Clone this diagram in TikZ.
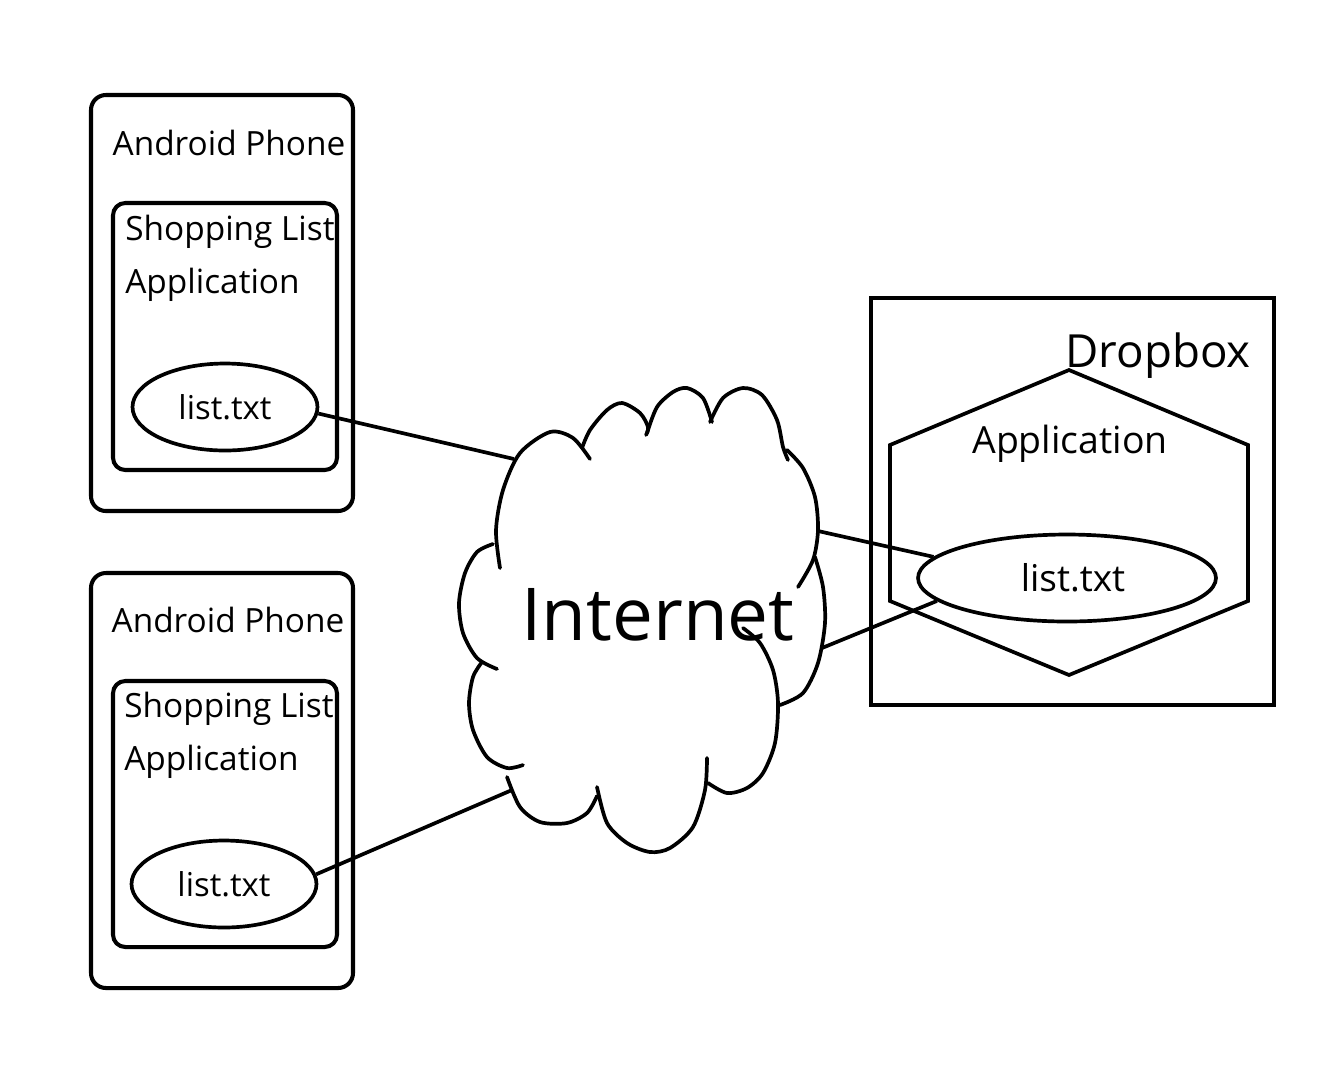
\documentclass[tikz,border=0pt]{standalone}
\usepackage{fontspec}
\setmainfont{Open Sans}
\usetikzlibrary{shapes.geometric}
\begin{document}
\begin{tikzpicture}[x=0.02cm,y=-0.02cm]
      % Define styles for boxes, files and lines
      \tikzset{
        phone/.style={line width=2.3pt,rounded corners=8.5pt},
        app/.style={line width=2.3pt,rounded corners=7pt},
        boxtext/.style={inner sep=0pt,font=\fontsize{19}{23}\selectfont},
        file/.style={draw,ellipse,line width=2.1pt,inner sep=0pt,
          minimum width=3.7cm,minimum height=1.74cm,
          font=\fontsize{18.7}{22}\selectfont},
        wire/.style={line width=2.1pt},
        cloudarc/.style={line width=2.1pt,line cap=round}
      }
      \useasboundingbox (0,0) rectangle (1342,1080);

      % First phone
      \draw[phone] (91,95) rectangle (353,511);
      \node[boxtext,anchor=base] (phone1) at (229,155) {Android Phone};
      \draw[app] (113,203) rectangle (337,470);
      \node[boxtext,anchor=base west] (shop1) at (125,240) {Shopping List};
      \node[boxtext,anchor=base west] (app1) at (125,293) {Application};
      \node[file] (file1) at (225,407) {list.txt};

      % Second phone
      \draw[phone] (91,573) rectangle (353,988);
      \node[boxtext,anchor=base] (phone2) at (228,632) {Android Phone};
      \draw[app] (113,681) rectangle (337,947);
      \node[boxtext,anchor=base west] (shop2) at (124,717) {Shopping List};
      \node[boxtext,anchor=base west] (app2) at (124,770) {Application};
      \node[file] (file2) at (224,884) {list.txt};

      % Cloud, drawn puff by puff
      \draw[cloudarc] plot[smooth] coordinates {(500,568) (496,530) (503,490) (520,453) (550,432) (573,438) (590,459)};
      \draw[cloudarc] plot[smooth] coordinates {(582,448) (590,430) (607,410) (622,403) (640,413) (648,427) (646,435)};
      \draw[cloudarc] plot[smooth] coordinates {(647,433) (657,407) (673,392) (687,388) (703,398) (712,422)};
      \draw[cloudarc] plot[smooth] coordinates {(710,422) (723,398) (743,388) (762,395) (777,420) (783,447) (788,460)};
      \draw[cloudarc] plot[smooth] coordinates {(787,450) (803,468) (815,497) (818,530) (813,560) (798,587)};
      \draw[cloudarc] plot[smooth] coordinates {(815,557) (823,587) (825,623) (818,663) (803,693) (780,705)};
      \draw[cloudarc] plot[smooth] coordinates {(743,628) (760,643) (773,670) (778,703) (775,743) (763,773) (747,788) (727,793) (708,783)};
      \draw[cloudarc] plot[smooth] coordinates {(707,758) (705,790) (693,827) (670,848) (650,852) (627,843) (607,823) (597,787)};
      \draw[cloudarc] plot[smooth] coordinates {(597,796) (587,813) (567,823) (540,822) (520,807) (507,777)};
      \draw[cloudarc] plot[smooth] coordinates {(523,765) (507,768) (487,757) (473,730) (469,703) (473,677) (482,662)};
      \draw[cloudarc] plot[smooth] coordinates {(497,669) (477,658) (463,633) (459,603) (465,573) (477,552) (493,544)};
      \node[inner sep=0pt,font=\fontsize{41.5}{48}\selectfont] (net) at (658,615) {Internet};

      % Points where the wires meet the cloud
      \coordinate (netw1) at (514,459);
      \coordinate (netw2) at (512,790);
      \coordinate (nete1) at (818,531);
      \coordinate (nete2) at (822,648);

      % Dropbox side
      \draw[line width=2.3pt] (871,298) rectangle (1274,705);
      \node[inner sep=0pt,anchor=base,font=\fontsize{26}{30}\selectfont] (dropbox) at (1158,367) {Dropbox};
      \draw[line width=2.1pt] (890,445) -- (1069,370) -- (1248,445) -- (1248,601)
        -- (1069,675) -- (890,601) -- cycle;
      \node[inner sep=0pt,anchor=base,font=\fontsize{21.3}{25}\selectfont] (dapp) at (1070,453) {Application};
      \node[file,minimum width=5.96cm] (dfile) at (1067,578) {};
      \node[inner sep=0pt,font=\fontsize{21}{25}\selectfont] (dname) at (1073,578) {list.txt};

      % Connections
      \draw[wire] (file1.356) -- (netw1);
      \draw[wire] (file2.6) -- (netw2);
      \draw[wire] (nete1) -- (dfile.171);
      \draw[wire] (nete2) -- (dfile.190);
\end{tikzpicture}
\end{document}
